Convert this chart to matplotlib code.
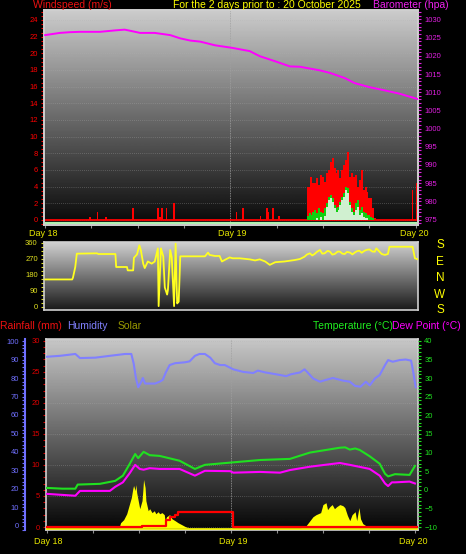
import numpy as np
import matplotlib
matplotlib.use('Agg')
import matplotlib.pyplot as plt
from matplotlib.ticker import MultipleLocator

plt.rcParams['font.family'] = ['Liberation Sans', 'DejaVu Sans']

# ---- data (hours since start of Day 18) ----
baro_hours = [0, 1.9, 3.2, 4.5, 7.1, 9.1, 10.3, 11.0, 12.3, 14.2, 16.2, 17.5, 18.8, 20.1, 22.0,
              24.2, 26.5, 27.8, 29.8, 31.7, 33.0, 34.3, 35.6, 36.9, 38.8, 40.1, 42.0, 44.0, 45.9, 48.3]
baro_vals = [1025.7, 1026.3, 1026.5, 1026.6, 1026.6, 1027.0, 1027.2, 1026.9, 1026.3, 1026.3, 1025.7,
             1024.8, 1024.2, 1023.9, 1022.9, 1022.2, 1021.3, 1019.9, 1018.5, 1017.1, 1017.0, 1016.5,
             1016.0, 1015.3, 1013.9, 1012.5, 1011.4, 1010.5, 1009.6, 1008.1]

spike_hours = [5.8, 6.8, 7.9, 11.4, 14.6, 14.9, 15.1, 15.7, 16.7, 24.8, 25.6, 27.9, 28.7, 28.9,
               29.5, 30.3, 47.6, 48.1]
spike_gust = [0.4, 1.0, 0.4, 1.5, 1.5, 0.4, 1.5, 1.5, 2.0, 1.0, 1.5, 0.5, 1.5, 1.0, 1.5, 0.5, 3.6, 4.4]

cluster_start = 34.0   # 15 minute samples from here
gust_cluster = [4.0, 4.0, 5.2, 4.5, 4.4, 5.0, 4.2, 5.4, 5.2, 4.6, 5.6, 6.0, 7.0, 7.5, 6.2, 5.6,
                6.0, 5.0, 6.0, 6.6, 7.2, 8.2, 5.2, 5.6, 5.2, 5.4, 4.0, 4.8, 6.0, 3.6, 4.0, 3.4,
                2.6, 2.6, 1.4, 0.3]
avg_cluster = [0.5, 0.8, 0.6, 1.0, 1.2, 0.8, 1.5, 1.0, 0.8, 1.4, 2.0, 2.8, 3.0, 2.6, 1.8, 1.4,
               1.6, 2.2, 2.8, 3.2, 4.0, 3.8, 2.2, 1.4, 1.0, 2.0, 2.4, 1.2, 1.6, 1.0, 0.8, 0.6,
               0.6, 0.4, 0.3, 0.0]
lull_cluster = [0, 0, 0, 0, 0, 0.3, 0, 0.4, 0, 0.5, 1.6, 2.4, 2.6, 2.2, 1.4, 1.0,
                1.2, 1.8, 2.4, 2.8, 3.6, 3.2, 1.8, 1.0, 0.6, 1.2, 1.6, 0.6, 0.8, 0.4, 0.3, 0.2,
                0, 0, 0, 0]

dir_hours = [0, 3.5, 3.6, 3.9, 4.1, 6.7, 6.9, 9.1, 9.2, 10.6, 10.7, 11.4, 11.5, 11.9, 12.2, 12.4,
             12.7, 12.9, 13.3, 13.8, 14.2, 14.6, 14.7, 15.0, 15.3, 15.5, 15.8, 15.9, 16.2, 16.4,
             16.7, 16.9, 17.1, 17.3, 17.5, 20.7, 21.1, 21.3, 22.0, 22.6, 22.9, 23.4, 23.9, 24.3,
             25.2, 26.5, 27.2, 27.8, 28.5, 29.1, 29.8, 31.0, 32.3, 33.0, 33.6, 33.9, 34.3, 34.6,
             34.9, 35.2, 35.6, 35.9, 36.2, 36.6, 36.9, 37.2, 37.5, 37.9, 38.2, 38.5, 38.8, 39.1,
             39.5, 39.8, 40.1, 40.4, 40.7, 41.0, 41.4, 41.7, 42.0, 42.4, 42.7, 42.9, 43.6, 44.0,
             44.4, 44.6, 47.2, 47.6, 47.9, 48.3]
dir_vals = [155, 155, 165, 225, 300, 302, 298, 298, 225, 225, 206, 206, 277, 296, 347, 319,
            244, 219, 256, 244, 256, 330, 5, 330, 285, 110, 70, 95, 321, 280,
            5, 356, 20, 30, 285, 285, 306, 293, 287, 287, 256, 268, 279, 274,
            274, 268, 262, 268, 256, 237, 252, 256, 264, 270, 283, 295, 302, 290,
            298, 310, 321, 300, 302, 316, 311, 295, 298, 312, 311, 300, 298, 310,
            306, 296, 306, 314, 317, 305, 317, 322, 324, 312, 311, 330, 298, 293,
            298, 339, 339, 339, 274, 268]

hum_hours = [0, 1.7, 3.7, 4.3, 6.3, 8.2, 10.2, 11.0, 11.3, 11.6, 11.9, 12.3, 12.5, 12.8, 13.4, 14.1,
             14.7, 15.1, 15.5, 16.0, 16.7, 18.0, 18.6, 19.3, 19.9, 20.6, 21.3, 21.9, 22.6, 23.2,
             24.3, 25.6, 26.9, 27.5, 28.5, 29.9, 31.2, 31.8, 33.0, 33.6, 34.0, 34.7, 35.6, 36.4,
             37.3, 38.6, 39.5, 40.2, 40.9, 41.6, 42.1, 42.8, 43.4, 44.1, 44.5, 45.1, 46.0, 46.8,
             47.5, 47.7, 48.1]
hum_vals = [91.5, 92, 93, 90.8, 91, 92, 93, 93, 88, 80, 75, 78, 80, 77, 77, 77,
            78, 79, 83, 87, 88, 88.5, 89, 92, 93, 93, 91, 88, 87, 87,
            84.7, 83.3, 82.7, 84, 83, 82, 81, 82, 83, 84.7, 83, 79.8, 78, 79,
            80, 78.6, 78, 75.7, 75.3, 78, 76, 79.8, 81.6, 87, 89.7, 88.8, 89.7, 90,
            89.4, 85, 75]

temp_hours = [0, 2.0, 3.7, 4.0, 6.9, 7.9, 8.9, 9.9, 10.8, 11.5, 11.9, 12.6, 13.4, 14.7, 17.3, 19.3,
              20.6, 23.9, 27.8, 31.7, 34.3, 38.2, 38.9, 39.5, 40.2, 40.8, 42.1, 43.4, 44.1, 44.5,
              45.4, 47.3, 48.0]
temp_vals = [0.5, 0.3, 0.3, 1.4, 1.6, 2.0, 2.4, 3.8, 7.0, 9.6, 8.5, 10.2, 9.3, 9.1, 7.8, 5.6,
             6.7, 7.3, 8.0, 8.3, 10.0, 11.3, 11.4, 10.8, 11.1, 10.7, 9.0, 7.0, 4.3, 3.6,
             4.2, 4.0, 6.4]

dew_hours = [0, 3.7, 4.3, 8.2, 8.9, 9.9, 10.8, 11.5, 12.1, 12.6, 13.4, 14.7, 17.3, 19.3, 20.6,
             23.9, 24.3, 27.8, 30.4, 31.7, 34.3, 38.2, 39.5, 42.1, 43.4, 44.1, 44.5, 45.0, 45.4,
             47.3, 48.0]
dew_vals = [-1.1, -1.6, -0.3, -0.3, 0.8, 2.0, 4.5, 6.7, 5.6, 5.4, 5.8, 5.6, 5.6, 3.8, 5.1,
            5.0, 4.6, 4.8, 4.6, 5.3, 6.2, 7.2, 6.7, 5.6, 3.8, 1.7, 1.0, 2.0, 2.0,
            2.2, 1.7]

rain_hours = [0, 12.4, 15.5, 16.0, 16.7, 17.1, 24.3, 48.4]
rain_vals = [0, 0.2, 1.2, 1.6, 2.0, 2.4, 0.0, 0.0]

solar_hours = [0, 9.4, 9.6, 10.0, 10.4, 10.7, 11.0, 11.2, 11.3, 11.5, 11.6, 11.7, 11.9, 12.1, 12.4,
               12.5, 12.6, 12.8, 12.9, 13.2, 13.4, 13.7, 14.0, 14.2, 14.5, 14.7, 15.0, 15.3, 15.4,
               15.6, 16.0, 16.3, 16.7, 17.1, 17.6, 18.1, 18.6, 33.1, 33.8, 34.7, 35.1, 35.7, 36.0,
               36.4, 36.6, 36.9, 37.2, 37.5, 37.8, 38.2, 38.6, 38.85, 39.2, 39.5, 39.8, 40.2,
               40.4, 40.7, 40.9, 41.2, 41.6, 42.1, 48.4]
solar_vals = [0, 0, 27, 43, 75, 118, 161, 210, 226, 199, 231, 188, 145, 102, 145,
              199, 258, 215, 145, 91, 102, 81, 91, 75, 86, 75, 81, 70, 38,
              59, 70, 48, 38, 27, 16, 5, 0, 0, 11, 59, 70, 81, 124,
              134, 97, 113, 124, 102, 113, 124, 118, 108, 65, 38, 70, 86,
              38, 108, 48, 22, 11, 0, 0]

day_labels = ['Day 18', 'Day 19', 'Day 20']
compass = ['S', 'E', 'N', 'W', 'S']

W, H = 466, 554
fig = plt.figure(figsize=(W / 100, H / 100), dpi=100, facecolor='black')


def fx(x):
    return x / W


def fy(y):
    return 1 - y / H


def gradient(ax, top, bottom):
    g = np.linspace(bottom, top, 256).reshape(-1, 1)
    ax.imshow(g, extent=[0, 1, 0, 1], transform=ax.transAxes, aspect='auto',
              cmap='gray', vmin=0, vmax=1, origin='lower', zorder=0)


def frame(ax):
    for s in ax.spines.values():
        s.set_color('#d0d0d0')
        s.set_linewidth(1.2)


TL = dict(labelsize=5.5, length=2.5, width=0.8, pad=2)

# ---------------- panel 1: wind + barometer ----------------
ax1 = fig.add_axes([fx(44), fy(225), fx(374), 215 / H])
gradient(ax1, 0.8, 0.03)
frame(ax1)
for v in range(0, 26, 2):
    ax1.axhline(v, color='#b0b0b0', lw=0.5, ls=(0, (1, 2)), alpha=0.6, zorder=1)
ax1.axvline(24, color='#a0a0a0', lw=0.6, ls=(0, (1, 1)), zorder=1)
ax1.axhline(-0.35, color='#b0f0b0', lw=1.6, zorder=2)
ax1.axhline(0.05, color='red', lw=1.3, zorder=2)
ax1.bar(spike_hours, spike_gust, width=0.22, color='red', zorder=3)
ch = cluster_start + 0.25 * np.arange(len(gust_cluster))
ax1.bar(ch, gust_cluster, width=0.26, color='red', zorder=3)
ax1.bar(ch, avg_cluster, width=0.26, color='#10d010', zorder=4)
ax1.fill_between(ch, lull_cluster, step='mid', color='#d0f0d0', lw=0, zorder=5)
ax1.set_xlim(-0.15, 48.3)
ax1.set_ylim(-0.6, 25.2)
ax1.set_yticks(range(0, 25, 2))
ax1.yaxis.set_minor_locator(MultipleLocator(0.5))
ax1.tick_params(axis='y', which='both', colors='red', **TL)
ax1.tick_params(axis='y', which='minor', length=2)
ax1.set_xticks(range(0, 49, 6))
ax1.tick_params(axis='x', colors='#909090', length=2, labelbottom=False)

ax1b = ax1.twinx()
ax1b.plot(baro_hours, baro_vals, color='#ff00ff', lw=1.4, zorder=6)
ax1b.set_ylim(973.5, 1032.6)
ax1b.set_yticks(range(975, 1031, 5))
ax1b.yaxis.set_minor_locator(MultipleLocator(1))
ax1b.tick_params(axis='y', which='both', colors='#e020e0', **TL)
ax1b.tick_params(axis='y', which='minor', length=2)
frame(ax1b)

fig.text(fx(33), fy(5), 'Windspeed (m/s)', color='#ee1111', fontsize=7.5, va='center')
fig.text(fx(267), fy(5), 'For the 2 days prior to : 20 October 2025', color='#ffff00',
         fontsize=7.5, va='center', ha='center')
fig.text(fx(373), fy(5), 'Barometer (hpa)', color='#ee22ee', fontsize=7.5, va='center')
for x, lab in zip([43, 232, 414], day_labels):
    fig.text(fx(x), fy(234), lab, color='#e8e800', fontsize=6.5, ha='center', va='center')

# ---------------- panel 2: wind direction ----------------
ax2 = fig.add_axes([fx(44), fy(310), fx(374), 68 / H])
gradient(ax2, 0.82, 0.1)
frame(ax2)
ax2.plot(dir_hours, dir_vals, color='#ffff20', lw=1.3, zorder=3)
ax2.set_xlim(-0.15, 48.3)
ax2.set_ylim(-16.9, 365.6)
ax2.set_yticks([0, 90, 180, 270, 360])
ax2.yaxis.set_minor_locator(MultipleLocator(22.5))
ax2.tick_params(axis='y', which='both', colors='#e0e020', **TL)
ax2.tick_params(axis='y', which='minor', length=2)
ax2.tick_params(axis='x', length=0, labelbottom=False)
for y, c in zip([245, 262, 278, 295, 310], compass):
    fig.text(fx(440), fy(y), c, color='#ffff00', fontsize=8.5, ha='center', va='center')

# ---------------- panel 3: rain, humidity, solar, temp ----------------
ax3 = fig.add_axes([fx(46), fy(530), fx(372), 191 / H])
gradient(ax3, 0.78, 0.02)
frame(ax3)
for v in range(0, 31, 5):
    ax3.axhline(v, color='#b0b0b0', lw=0.5, ls=(0, (1, 2)), alpha=0.6, zorder=1)
ax3.axvline(24, color='#a0a0a0', lw=0.6, ls=(0, (1, 1)), zorder=1)
ax3.set_xlim(-0.13, 48.4)
ax3.set_ylim(-0.48, 30.3)
ax3.set_yticks(range(0, 31, 5))
ax3.yaxis.set_minor_locator(MultipleLocator(1))
ax3.tick_params(axis='y', which='both', colors='#dd0000', **TL)
ax3.tick_params(axis='y', which='minor', length=2)
ax3.set_xticks(range(0, 49, 6))
ax3.tick_params(axis='x', colors='#909090', length=2, labelbottom=False)

ax3s = ax3.twinx()
ax3s.fill_between(solar_hours, solar_vals, color='#ffff00', lw=0, zorder=2)
ax3s.axhline(-6, color='#ffff00', lw=1.2)
ax3s.set_ylim(-12, 1010)
ax3s.set_yticks([])
for s in ax3s.spines.values():
    s.set_visible(False)

ax3r = ax3.twinx()
ax3r.step(rain_hours, rain_vals, where='post', color='red', lw=1.6, zorder=3)
ax3r.set_ylim(-0.48, 30.3)
ax3r.set_yticks([])
for s in ax3r.spines.values():
    s.set_visible(False)

ax3h = ax3.twinx()
ax3h.plot(hum_hours, hum_vals, color='#8080ff', lw=1.5, zorder=3)
ax3h.set_ylim(-2.2, 101.1)
ax3h.yaxis.set_ticks_position('left')
ax3h.yaxis.set_label_position('left')
for s in ax3h.spines.values():
    s.set_visible(False)
ax3h.spines['left'].set_visible(True)
ax3h.spines['left'].set_position(('outward', 15))
ax3h.spines['left'].set_color('#7070ff')
ax3h.spines['left'].set_linewidth(1.5)
ax3h.set_yticks(range(0, 101, 10))
ax3h.yaxis.set_minor_locator(MultipleLocator(2))
ax3h.tick_params(axis='y', which='both', colors='#7070ff', **TL)
ax3h.tick_params(axis='y', which='minor', length=2)

ax3t = ax3.twinx()
ax3t.plot(temp_hours, temp_vals, color='#20e020', lw=1.5, zorder=4)
ax3t.plot(dew_hours, dew_vals, color='#ff00ff', lw=1.5, zorder=4)
ax3t.set_ylim(-10.8, 40.5)
ax3t.set_yticks(range(-10, 41, 5))
ax3t.yaxis.set_minor_locator(MultipleLocator(1))
ax3t.tick_params(axis='y', which='both', colors='#20e020', **TL)
ax3t.tick_params(axis='y', which='minor', length=2)
for s in ax3t.spines.values():
    s.set_visible(False)

fig.text(fx(0), fy(326), 'Rainfall (mm)', color='#ee1111', fontsize=7.5, va='center')
fig.text(fx(67), fy(326), 'Humidity', color='#8080ff', fontsize=7.5, va='center')
fig.text(fx(118), fy(326), 'Solar', color='#999900', fontsize=7.5, va='center')
fig.text(fx(313), fy(326), 'Temperature (\u00b0C)', color='#20ee20', fontsize=7.5, va='center')
fig.text(fx(392), fy(326), 'Dew Point (\u00b0C)', color='#ff00ff', fontsize=7.5, va='center')
for x, lab in zip([48, 233, 413], day_labels):
    fig.text(fx(x), fy(541), lab, color='#e8e800', fontsize=6.5, ha='center', va='center')

fig.savefig('out.png', dpi=100, facecolor='black')
